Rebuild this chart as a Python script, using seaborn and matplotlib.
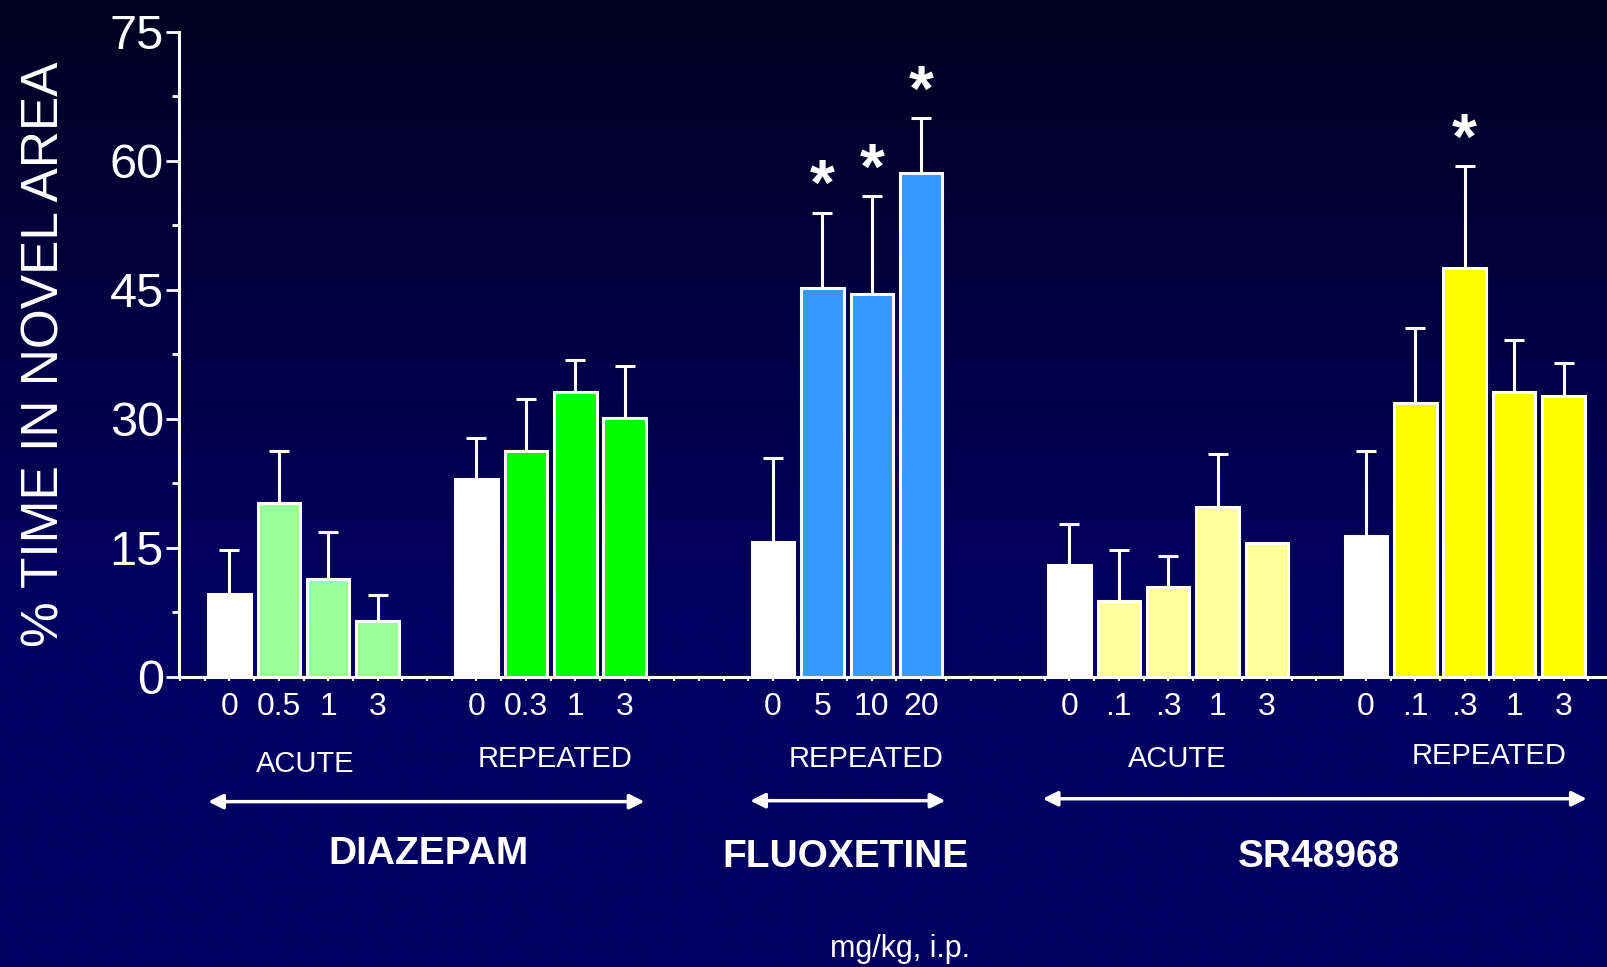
import numpy as np
import pandas as pd
import seaborn as sns
import matplotlib.pyplot as plt
from matplotlib import transforms
from matplotlib.ticker import MultipleLocator

# bar slots (empty slots separate the groups)
slots = [0, 1, 2, 3, 5, 6, 7, 8, 11, 12, 13, 14, 17, 18, 19, 20, 21, 23, 24, 25, 26, 27]
dose_labels = ['0', '0.5', '1', '3', '0', '0.3', '1', '3', '0', '5', '10', '20',
               '0', '.1', '.3', '1', '3', '0', '.1', '.3', '1', '3']
time_novel = [9.6, 20.2, 11.4, 6.5, 23.0, 26.3, 33.1, 30.1, 15.7, 45.2, 44.5, 58.6,
              13.0, 8.8, 10.4, 19.8, 15.6, 16.4, 31.9, 47.5, 33.1, 32.7]
sem = [5.1, 6.1, 5.4, 3.0, 4.8, 6.0, 3.8, 6.1, 9.8, 8.8, 11.4, 6.4,
       4.8, 6.0, 3.7, 6.1, np.nan, 9.9, 8.7, 11.9, 6.1, 3.8]
bar_colors = ['#ffffff', '#99ff99', '#99ff99', '#99ff99',
              '#ffffff', '#00ff00', '#00ff00', '#00ff00',
              '#ffffff', '#3399ff', '#3399ff', '#3399ff',
              '#ffffff', '#ffff99', '#ffff99', '#ffff99', '#ffff99',
              '#ffffff', '#ffff00', '#ffff00', '#ffff00', '#ffff00']
signif = [False] * 9 + [True, True, True] + [False] * 7 + [True, False, False]

# treatment labels (x in slot units, y in figure fraction)
regimen_text = ['ACUTE', 'REPEATED', 'REPEATED', 'ACUTE', 'REPEATED']
regimen_x = [1.53, 6.6, 12.88, 19.19, 25.5]
regimen_y = [0.210, 0.215, 0.215, 0.215, 0.218]
drug_names = ['DIAZEPAM', 'FLUOXETINE', 'SR48968']
drug_x = [4.02, 12.46, 22.05]
drug_y = [0.117, 0.114, 0.114]
arrow_x = [(-0.43, 8.4), (10.54, 14.49), (16.46, 27.47)]
arrow_y = [0.171, 0.172, 0.174]

df = pd.DataFrame({'slot': slots, 'value': time_novel, 'sem': sem,
                   'key': [f'b{i}' for i in range(len(slots))]})
palette = dict(zip(df['key'], bar_colors))

sns.set_style('white')
plt.rcParams['font.family'] = ['Liberation Sans', 'DejaVu Sans']

fig = plt.figure(figsize=(16.07, 9.67), dpi=100)

# background gradient: near black at top to navy
bg = fig.add_axes([0, 0, 1, 1], zorder=-10)
n = 400
t = np.clip(np.linspace(0, 1, n) / 0.62, 0, 1)
top = np.array([3, 0, 31]) / 255
bot = np.array([0, 0, 96]) / 255
grad = top[None, :] * (1 - t[:, None]) + bot[None, :] * t[:, None]
bg.imshow(grad[:, None, :], aspect='auto', extent=[0, 1, 0, 1])
bg.axis('off')

ax = fig.add_axes([0.1114, 0.3, 0.8886, 0.667])
ax.set_facecolor('none')

sns.barplot(data=df, x='slot', y='value', hue='key', palette=palette, native_scale=True,
            dodge=False, legend=False, width=0.86, edgecolor='white', linewidth=2.2,
            saturation=1, errorbar=None, ax=ax)
for p in ax.patches:
    p.set_zorder(3)

ax.errorbar(df['slot'], df['value'], yerr=[np.zeros(len(df)), df['sem']], fmt='none',
            ecolor='white', elinewidth=2.2, capsize=7.5, capthick=2.2, zorder=2)

for s, v, e, sig in zip(slots, time_novel, sem, signif):
    if sig:
        ax.annotate('*', (s, v + e), xytext=(0, -4), textcoords='offset points',
                    ha='center', va='bottom', color='white', fontsize=46, fontweight='bold')

ax.set_xlim(-1.02, 27.88)
ax.set_ylim(0, 75)
ax.set_yticks([0, 15, 30, 45, 60, 75])
ax.yaxis.set_minor_locator(MultipleLocator(7.5))
ax.set_xticks(slots)
ax.set_xticklabels(dose_labels)
ax.xaxis.set_minor_locator(MultipleLocator(0.5))
ax.tick_params(axis='y', which='major', length=9.5, width=2, colors='white',
               labelsize=35, pad=1.5, left=True)
ax.tick_params(axis='y', which='minor', length=5, width=2, colors='white', left=True)
ax.tick_params(axis='x', which='both', length=3, width=1.5, colors='white',
               labelsize=23, pad=8, bottom=True)
ax.set_xlabel('')
ax.set_ylabel('% TIME IN NOVEL AREA', color='white', fontsize=37)
ax.yaxis.set_label_coords(-0.077, 0.5)

sns.despine(ax=ax)
for side in ['left', 'bottom']:
    ax.spines[side].set_color('white')
    ax.spines[side].set_linewidth(2.2)

trans = transforms.blended_transform_factory(ax.transData, fig.transFigure)
for txt, x, y in zip(regimen_text, regimen_x, regimen_y):
    ax.text(x, y, txt, transform=trans, ha='center', va='center', color='white',
            fontsize=21, clip_on=False)
for txt, x, y in zip(drug_names, drug_x, drug_y):
    ax.text(x, y, txt, transform=trans, ha='center', va='center', color='white',
            fontsize=28, fontweight='bold', clip_on=False)
for (x0, x1), y in zip(arrow_x, arrow_y):
    ax.annotate('', xy=(x1, y), xytext=(x0, y), xycoords=trans, textcoords=trans,
                arrowprops=dict(arrowstyle='<|-|>', color='white', lw=2.5,
                                mutation_scale=22, shrinkA=0, shrinkB=0))
ax.text(13.58, 0.0186, 'mg/kg, i.p.', transform=trans, ha='center', va='center',
        color='white', fontsize=22, clip_on=False)

fig.savefig('out.png', dpi=100)
